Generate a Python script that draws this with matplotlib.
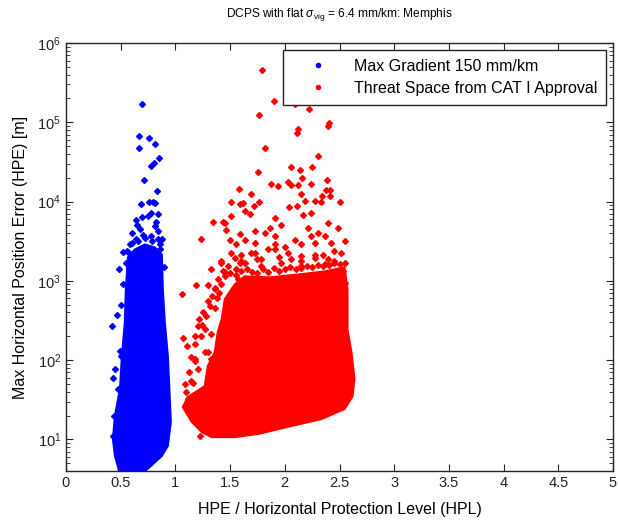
import matplotlib
matplotlib.use('Agg')
import matplotlib.pyplot as plt
from matplotlib.lines import Line2D
from matplotlib.ticker import LogLocator, NullFormatter, FuncFormatter

plt.rcParams['font.family'] = ['Liberation Sans', 'DejaVu Sans']
plt.rcParams['mathtext.fontset'] = 'custom'
plt.rcParams['mathtext.rm'] = 'Liberation Sans'
plt.rcParams['mathtext.it'] = 'Liberation Sans:italic'

# ---------------- data ----------------
# dense core envelope of "Max Gradient 150 mm/km"
blue_core_x = [0.566, 0.630, 0.721, 0.812, 0.876, 0.885, 0.903, 0.931, 0.949, 0.958,
               0.931, 0.876, 0.766, 0.675, 0.493, 0.474, 0.447, 0.429, 0.447, 0.493,
               0.511, 0.538, 0.547]
blue_core_y = [1980, 2490, 2880, 2640, 2150, 780, 300, 112, 32, 16.6,
               8.3, 6.2, 4.5, 3.5, 3.5, 4.6, 6.2, 10.1, 19.8, 43,
               112, 300, 780]
# scattered points of "Max Gradient 150 mm/km"
blue_x = [0.693, 0.666, 0.760, 0.810, 0.666, 0.846, 0.800, 0.773, 0.714, 0.830,
          0.681, 0.760, 0.797, 0.818, 0.773, 0.842, 0.636, 0.696, 0.751, 0.648,
          0.599, 0.812, 0.842, 0.879, 0.523, 0.575, 0.484, 0.578, 0.660, 0.675,
          0.417, 0.468, 0.447, 0.432, 0.477, 0.438, 0.432, 0.499, 0.493,
          0.584, 0.639, 0.721, 0.785, 0.839, 0.557, 0.858, 0.675, 0.821,
          0.600, 0.700, 0.780, 0.860, 0.550, 0.520, 0.500, 0.900]
blue_y = [1.7e5, 6.7e4, 6.3e4, 5.4e4, 4.7e4, 3.5e4, 3.1e4, 2.8e4, 1.85e4, 1.35e4,
          9.3e3, 1.0e4, 9.9e3, 9.7e3, 7.2e3, 7.0e3, 5.9e3, 6.3e3, 6.5e3, 5.0e3,
          4.0e3, 4.9e3, 4.3e3, 3.4e3, 2.3e3, 2.27e3, 1.4e3, 1.47e3, 3.2e3, 2.5e3,
          270, 370, 77, 60, 43, 20, 11, 113, 131,
          2880, 3330, 3520, 3140, 3330, 2350, 2490, 4450, 5600,
          3000, 3800, 3700, 2900, 1700, 900, 500, 1500]

# dense core envelope of "Threat Space from CAT I Approval"
red_core_x = [1.423, 1.451, 1.542, 1.633, 1.861, 2.135, 2.363, 2.546, 2.573, 2.573,
              2.609, 2.637, 2.619, 2.546, 2.336, 2.062, 1.752, 1.542, 1.332, 1.241,
              1.150, 1.068, 1.113, 1.268, 1.296, 1.359, 1.387]
red_core_y = [328, 585, 903, 1140, 1107, 1208, 1316, 1478, 782, 245,
              126, 58, 35, 24.2, 18.1, 14.8, 11.7, 10.7, 10.7, 12.4,
              16.6, 25.6, 34.3, 47, 84, 126, 225]
# scattered points of "Threat Space from CAT I Approval"
red_x = [1.791, 1.901, 1.767, 2.096, 2.223, 2.400, 2.397, 2.120, 2.108, 1.818,
         2.308, 1.752, 2.053, 2.135, 2.247, 2.388, 2.160, 1.877, 1.937, 2.032,
         2.053, 2.120, 2.235, 1.581, 1.688, 2.144, 2.378, 2.409, 2.339, 2.411,
         1.508, 1.588, 1.615, 1.718, 1.764, 2.181, 2.272, 2.333, 2.500, 2.041,
         2.110, 1.640, 1.679, 1.512, 1.344, 1.457, 1.466, 1.232, 1.594, 1.557,
         1.640, 1.724, 1.907, 1.861, 1.968, 1.816, 1.907, 2.165, 2.242, 2.211,
         2.302, 2.393, 2.484, 2.089, 1.998, 2.151, 2.272, 2.424, 2.546,
         1.061, 1.192, 1.298, 1.359, 1.329, 1.421, 1.435, 1.557, 1.603, 1.512,
         1.724, 1.786, 1.907, 2.028, 2.151, 2.272, 2.393, 2.516, 2.530, 2.546,
         1.070, 1.177, 1.238, 1.110, 1.177, 1.086, 1.162, 1.223, 1.298,
         1.435, 1.496, 1.588,
         1.207, 1.268, 1.329, 1.177, 1.207, 1.268, 1.329, 1.147, 1.116, 1.162,
         1.207, 1.298,
         1.421, 1.481, 1.542, 1.633, 1.694, 1.451, 1.572, 1.389, 1.786, 1.847,
         1.968, 2.059, 2.151, 2.272, 2.363, 2.454, 2.530, 1.724, 1.907, 2.363,
         2.242,
         1.250, 1.300, 1.360, 1.330, 1.400, 1.220,
         1.45, 1.50, 1.55, 1.60, 1.65, 1.70, 1.75, 1.80, 1.85, 1.90,
         1.95, 2.00, 2.05, 2.10, 2.15, 2.20, 2.25, 2.30, 2.35, 2.40,
         2.45, 2.50, 2.55, 1.60, 1.75, 1.95, 2.15, 2.35, 2.45,
         1.38, 1.32, 1.28, 1.42, 1.36, 1.24, 1.18, 1.14, 1.12, 1.10]
red_y = [4.5e5, 1.85e5, 1.24e5, 1.7e5, 1.48e5, 9.8e4, 9.1e4, 8.2e4, 7.4e4, 4.8e4,
         3.76e4, 2.34e4, 2.7e4, 2.53e4, 2.7e4, 1.89e4, 1.96e4, 1.68e4, 1.56e4, 1.75e4,
         1.6e4, 1.6e4, 1.68e4, 1.46e4, 1.25e4, 1.25e4, 1.42e4, 1.4e4, 1.19e4, 1.16e4,
         9.9e3, 9.4e3, 9.6e3, 8.9e3, 9.9e3, 1.03e4, 1.02e4, 9.9e3, 9.9e3, 8.5e3,
         8.7e3, 7.5e3, 6.9e3, 6.5e3, 5.6e3, 5.4e3, 4.4e3, 3.4e3, 3.95e3, 2.9e3,
         3.3e3, 4.2e3, 6.2e3, 4.7e3, 5.1e3, 4.0e3, 3.7e3, 6.7e3, 7.2e3, 4.7e3,
         4.0e3, 5.4e3, 4.7e3, 3.3e3, 2.7e3, 2.9e3, 3.0e3, 3.0e3, 3.2e3,
         676, 877, 877, 820, 1400, 1780, 1330, 1400, 1780, 2260,
         2260, 1860, 2490, 2260, 2050, 2150, 1860, 2260, 1330, 950,
         193, 202, 202, 151, 98, 50, 52, 11.2, 125,
         5.6e3, 3.3e3, 1700,
         270, 245, 212, 103, 77, 125, 103, 55, 32, 24,
         20, 15,
         1695, 1535, 1960, 1695, 2260, 1150, 1045, 1045, 1535, 2490,
         1695, 1860, 1535, 1960, 1610, 1775, 1045, 3020, 2880, 3660,
         3660,
         400, 550, 450, 650, 700, 330,
         1300, 1250, 1200, 1350, 1400, 1300, 1250, 1400, 1300, 1450,
         1350, 1400, 1500, 1400, 1450, 1550, 1500, 1600, 1550, 1600,
         1700, 1650, 1700, 2100, 1900, 2000, 1800, 2100, 2400,
         600, 480, 360, 900, 780, 280, 160, 110, 70, 40]

series_labels = ['Max Gradient 150 mm/km', 'Threat Space from CAT I Approval']
x_ticks = [0, 0.5, 1, 1.5, 2, 2.5, 3, 3.5, 4, 4.5, 5]

# ---------------- figure ----------------
fig = plt.figure(figsize=(6.18, 5.2), dpi=100)
ax = fig.add_axes([66 / 618, 49 / 520, (613 - 66) / 618, (471 - 43) / 520])

ax.fill(blue_core_x, blue_core_y, facecolor='#0000ff', edgecolor='#0000ff', lw=1.5)
ax.plot(blue_x, blue_y, ls='none', marker='D', ms=3, color='#0000ff', mec='#0000ff')
ax.fill(red_core_x, red_core_y, facecolor='#ff0000', edgecolor='#ff0000', lw=1.5)
ax.plot(red_x, red_y, ls='none', marker='D', ms=3, color='#ff0000', mec='#ff0000')

ax.set_yscale('log')
ax.set_xlim(0, 5)
ax.set_ylim(4, 1e6)
ax.set_xticks(x_ticks)
ax.xaxis.set_major_formatter(FuncFormatter(lambda v, p: f'{v:g}'))
ax.yaxis.set_major_locator(LogLocator(base=10, numticks=10))
ax.yaxis.set_minor_locator(LogLocator(base=10, subs=range(2, 10), numticks=20))
ax.yaxis.set_minor_formatter(NullFormatter())
ax.tick_params(which='both', direction='in', top=True, right=True, labelsize=10.5,
               colors='#222222')
ax.tick_params(which='major', length=5, width=0.8)
ax.tick_params(which='minor', length=3, width=0.6)
for s in ax.spines.values():
    s.set_linewidth(1.0)
    s.set_color('#222222')

ax.set_title(r'DCPS with flat $\sigma_{\mathrm{vig}}$ = 6.4 mm/km: Memphis',
             fontsize=8.6, pad=19)
ax.set_xlabel('HPE / Horizontal Protection Level (HPL)', fontsize=11.5, labelpad=9)
ax.set_ylabel('Max Horizontal Position Error (HPE) [m]', fontsize=11.5, labelpad=7)

handles = [Line2D([], [], ls='none', marker='o', ms=3, color='#0000ff'),
           Line2D([], [], ls='none', marker='o', ms=3, color='#ff0000')]
leg = ax.legend(handles, series_labels, loc='upper right',
                bbox_to_anchor=(0.987, 0.984), borderaxespad=0, fontsize=11.5,
                frameon=True, fancybox=False, edgecolor='#222222', framealpha=1,
                handlelength=3.3, handletextpad=0.6, borderpad=0.55, labelspacing=0.45)
leg.get_frame().set_linewidth(1.0)

fig.savefig('out.png', dpi=100)
